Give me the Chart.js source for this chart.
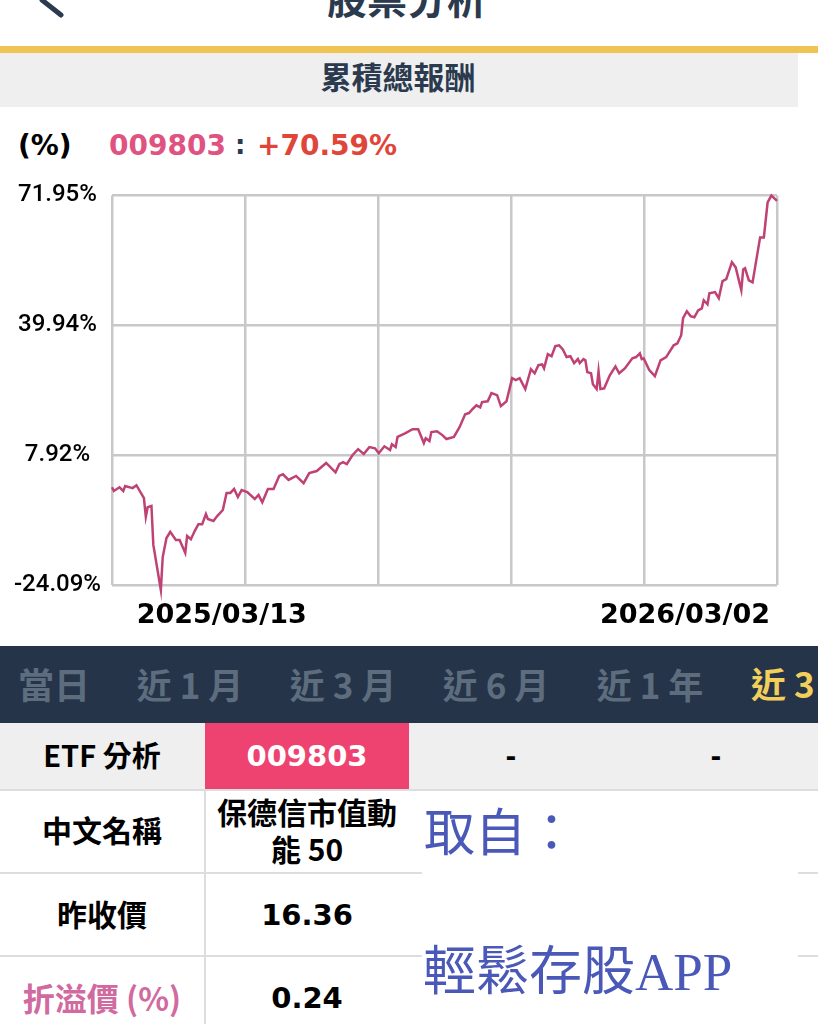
<!DOCTYPE html>
<html lang="zh-Hant">
<head>
<meta charset="UTF-8">
<title>累積總報酬</title>
<script src="https://cdn.jsdelivr.net/npm/chart.js"></script>
<style>
  html, body { margin: 0; padding: 0; background: #fff; }
  body { width: 818px; height: 1024px; position: relative; overflow: hidden; font-family: "Noto Sans CJK TC", sans-serif; }
  .box { position: absolute; }
  .t { position: absolute; white-space: nowrap; line-height: 1; font-weight: 700; }
  .c { transform: translate(-50%, -50%); }
  .num { font-family: "DejaVu Sans", sans-serif; }
  .mark { position: absolute; white-space: nowrap; line-height: 1; font-family: "Liberation Serif", "Noto Sans CJK TC", serif; font-weight: 400; color: #4a58b8; }
  #chartWrap { position: absolute; left: 0; top: 170px; width: 818px; height: 460px; }
</style>
</head>
<body>
  <!-- 頂部 -->
  <svg class="box" style="left:30px;top:0" width="40" height="24"><line x1="12" y1="0" x2="31" y2="15" stroke="#2b3a4e" stroke-width="5" stroke-linecap="round"/></svg>
  <div class="t c" style="left:407px;top:-3px;font-size:40px;color:#2b3a4e">股票分析</div>
  <div class="box" style="left:0;top:46px;width:818px;height:7px;background:#f0c452"></div>
  <div class="box" style="left:0;top:53px;width:798px;height:54px;background:#efefef"></div>
  <div class="t c" style="left:398px;top:75px;font-size:31px;color:#2b3a4e">累積總報酬</div>

  <div class="t num" style="left:18px;top:132px;font-size:28px;color:#000">(%)</div>
  <div class="t num" style="left:109px;top:132px;font-size:28px;color:#e0527f">009803</div>
  <div class="t num" style="left:235px;top:132px;font-size:26px;color:#2b3a4e">:</div>
  <div class="t num" style="left:257px;top:132px;font-size:28px;color:#e0453a">+70.59%</div>

  <!-- 圖表 -->
  <div id="chartWrap"><canvas id="returnChart"></canvas></div>

  <!-- 期間列 -->
  <div class="box" style="left:0;top:646px;width:818px;height:77px;background:#253449"></div>
  <div class="t c" style="left:54px;top:683px;font-size:36px;color:#5d6d7e">當日</div>
  <div class="t c" style="left:190px;top:683px;font-size:35px;color:#5d6d7e">近 1 月</div>
  <div class="t c" style="left:343px;top:683px;font-size:35px;color:#5d6d7e">近 3 月</div>
  <div class="t c" style="left:496px;top:683px;font-size:35px;color:#5d6d7e">近 6 月</div>
  <div class="t c" style="left:650px;top:683px;font-size:35px;color:#5d6d7e">近 1 年</div>
  <div class="t" style="left:751px;top:665px;font-size:35px;color:#f2cf5b">近 3 年</div>

  <!-- 表格 -->
  <div class="box" style="left:0;top:723px;width:818px;height:66px;background:#efefef"></div>
  <div class="box" style="left:205px;top:723px;width:204px;height:66px;background:#ee4370"></div>
  <div class="box" style="left:0;top:789px;width:818px;height:2px;background:#ddd"></div>
  <div class="box" style="left:0;top:872px;width:818px;height:2px;background:#ddd"></div>
  <div class="box" style="left:0;top:955px;width:818px;height:2px;background:#ddd"></div>
  <div class="box" style="left:204px;top:790px;width:2px;height:234px;background:#ddd"></div>

  <div class="t c" style="left:102px;top:754px;font-size:29px;color:#000">ETF 分析</div>
  <div class="t c num" style="left:307px;top:756px;font-size:29px;color:#fff">009803</div>
  <div class="t c num" style="left:511px;top:757px;font-size:26px;color:#000">-</div>
  <div class="t c num" style="left:716px;top:757px;font-size:26px;color:#000">-</div>

  <div class="t c" style="left:102px;top:829px;font-size:30px;color:#000">中文名稱</div>
  <div class="t c" style="left:307px;top:811px;font-size:30px;color:#000">保德信市值動</div>
  <div class="t c" style="left:307px;top:848px;font-size:30px;color:#000">能 50</div>
  <div class="t c" style="left:102px;top:913px;font-size:30px;color:#000">昨收價</div>
  <div class="t c num" style="left:307px;top:915px;font-size:29px;color:#000">16.36</div>
  <div class="t c" style="left:102px;top:997px;font-size:32px;color:#d06a9f">折溢價 (%)</div>
  <div class="t c num" style="left:307px;top:998px;font-size:29px;color:#000">0.24</div>

  <!-- 來源標示 -->
  <div class="box" style="left:422px;top:791px;width:376px;height:233px;background:#fff"></div>
  <div class="mark" style="left:424px;top:809px;font-size:51px">取自：</div>
  <div class="mark" style="left:423px;top:946px;font-size:53px">輕鬆存股APP</div>

  <script>
    // days since the start of the period
    const dayOffsets = [
      0, 1, 4, 6, 7, 11, 13, 17, 18, 19, 21, 22, 26, 27, 29, 31, 34, 36, 39, 40,
      42, 44, 46, 48, 50, 51, 54, 56, 59, 61, 63, 65, 67, 69, 72, 76, 78, 80, 83, 86,
      89, 91, 94, 98, 102, 105, 109, 114, 119, 121, 123, 125, 128, 131, 134, 137, 140, 142, 145, 148,
      149, 151, 152, 156, 160, 163, 166, 167, 169, 170, 173, 176, 178, 182, 185, 188, 190, 192, 194, 196,
      197, 200, 202, 205, 207, 210, 213, 215, 217, 220, 223, 225, 227, 229, 230, 232, 234, 236, 238, 240,
      242, 244, 246, 248, 249, 251, 252, 253, 255, 256, 258, 259, 260, 262, 265, 268, 270, 273, 277, 279,
      281, 282, 283, 286, 289, 292, 295, 299, 301, 303, 304, 306, 308, 310, 312, 314, 315, 317, 318, 321,
      323, 325, 327, 330, 332, 335, 336, 337, 339, 341, 345, 347, 349, 351, 354
    ];

    // cumulative total return, %
    const totalReturn = [
      0.0, -0.9, 0.0, -0.9, 0.3, -0.2, 0.5, -2.7, -7.3, -4.9, -4.6, -14.2, -25.3, -17.2, -12.5, -11.0, -13.0, -13.0, -16.2, -12.0,
      -12.8, -10.8, -9.1, -9.1, -6.6, -7.8, -8.3, -7.1, -5.6, -1.4, -1.4, -0.4, -2.4, -0.7, -1.2, -2.9, -1.9, -3.7, -0.4, -0.4,
      2.8, 3.2, 1.8, 2.8, 1.0, 3.5, 4.0, 6.0, 3.7, 5.7, 6.2, 5.7, 7.9, 9.4, 8.2, 9.9, 9.6, 8.4, 10.1, 9.2,
      10.6, 9.9, 12.4, 13.3, 14.3, 14.3, 10.9, 12.1, 11.4, 13.6, 13.8, 12.8, 11.9, 12.4, 14.8, 18.0, 18.3, 19.3, 20.2, 19.7,
      21.0, 21.2, 23.2, 22.7, 20.0, 21.2, 26.9, 26.4, 26.9, 24.2, 29.1, 28.1, 30.1, 30.3, 29.3, 32.8, 32.3, 34.8, 35.0, 34.0,
      32.1, 32.3, 30.6, 31.6, 30.6, 31.6, 31.3, 28.4, 28.1, 25.4, 24.2, 28.6, 24.2, 24.4, 27.6, 29.8, 28.1, 29.3, 31.8, 32.1,
      33.0, 31.6, 31.8, 28.9, 27.4, 31.3, 32.1, 35.0, 35.5, 37.5, 41.7, 43.4, 42.2, 41.9, 43.6, 44.1, 46.1, 45.1, 47.8, 48.1,
      46.6, 50.8, 51.3, 55.5, 54.2, 48.6, 53.7, 54.0, 51.0, 50.5, 61.6, 61.6, 70.2, 71.9, 70.6
    ];

    const yTickValues = [-24.09, 7.92, 39.94, 71.95];
    const xGridDays = [0, 70.8, 141.6, 212.4, 283.2, 354];
    const xLabelDays = [58.4, 305];
    const xLabels = ["2025/03/13", "2026/03/02"];

    new Chart(document.getElementById("returnChart"), {
      type: "line",
      data: {
        datasets: [{
          data: dayOffsets.map((d, i) => ({ x: d, y: totalReturn[i] })),
          borderColor: "#bf4275",
          borderWidth: 2.5,
          pointRadius: 0,
          tension: 0,
          clip: false
        }]
      },
      options: {
        responsive: true,
        maintainAspectRatio: false,
        animation: false,
        layout: { padding: { top: 25, right: 41, left: 0, bottom: 0 } },
        plugins: { legend: { display: false }, tooltip: { enabled: false } },
        scales: {
          x: {
            type: "linear",
            min: 0,
            max: 354,
            afterBuildTicks: (axis) => {
              axis.ticks = xGridDays.concat(xLabelDays).map((v) => ({ value: v }));
            },
            afterFit: (axis) => { axis.height = 45; },
            border: { display: false },
            grid: {
              drawTicks: false,
              lineWidth: 2.5,
              color: (ctx) => xGridDays.includes(ctx.tick.value) ? "#c8c8c8" : "transparent"
            },
            ticks: {
              autoSkip: false,
              maxRotation: 0,
              padding: 15,
              color: "#000",
              font: { family: "DejaVu Sans", size: 27, weight: "bold" },
              callback: (v) => {
                const i = xLabelDays.indexOf(v);
                return i >= 0 ? xLabels[i] : "";
              }
            }
          },
          y: {
            min: -24.09,
            max: 71.95,
            afterBuildTicks: (axis) => {
              axis.ticks = yTickValues.map((v) => ({ value: v }));
            },
            afterFit: (axis) => { axis.width = 112; },
            border: { display: false },
            grid: { drawTicks: false, lineWidth: 2.5, color: "#c8c8c8" },
            ticks: {
              autoSkip: false,
              crossAlign: "center",
              padding: 11,
              color: "#000",
              font: { family: "Roboto", size: 24, weight: "500" },
              callback: (v) => v.toFixed(2) + "%"
            }
          }
        }
      }
    });
  </script>
</body>
</html>
